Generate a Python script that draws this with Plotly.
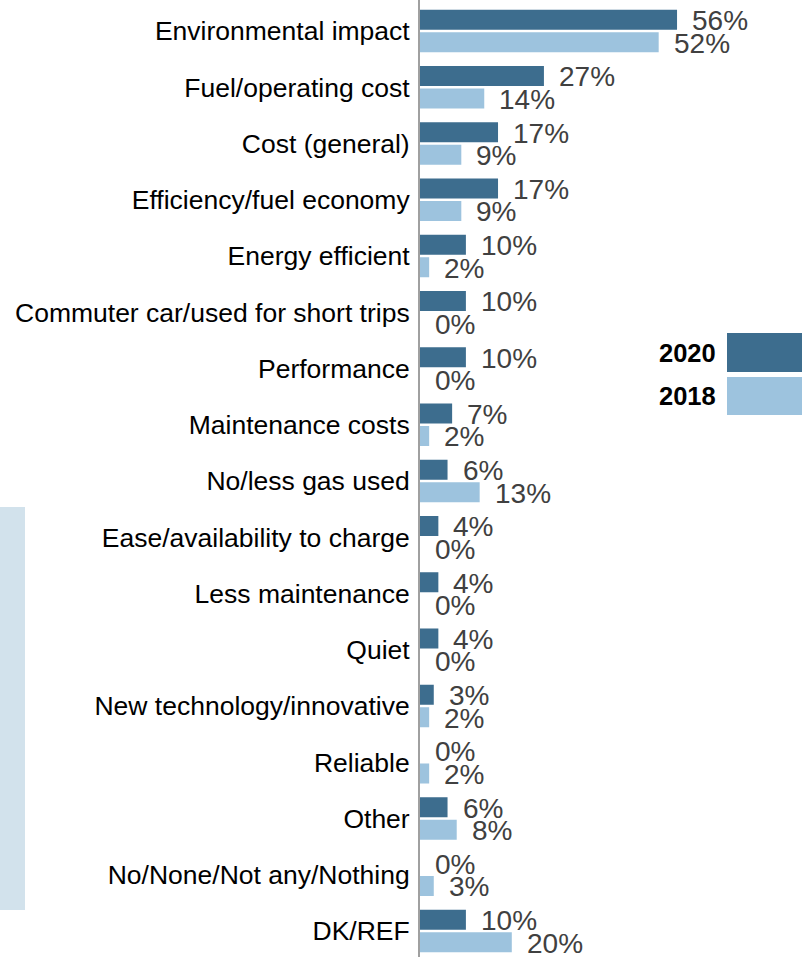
import plotly.graph_objects as go

# Reasons given for preferring an electric vehicle, share of respondents
categories = [
    "Environmental impact",
    "Fuel/operating cost",
    "Cost (general)",
    "Efficiency/fuel economy",
    "Energy efficient",
    "Commuter car/used for short trips",
    "Performance",
    "Maintenance costs",
    "No/less gas used",
    "Ease/availability to charge",
    "Less maintenance",
    "Quiet",
    "New technology/innovative",
    "Reliable",
    "Other",
    "No/None/Not any/Nothing",
    "DK/REF",
]
values_2020 = [56, 27, 17, 17, 10, 10, 10, 7, 6, 4, 4, 4, 3, 0, 6, 0, 10]
values_2018 = [52, 14, 9, 9, 2, 0, 0, 2, 13, 0, 0, 0, 2, 2, 8, 3, 20]
series_names = ["2020", "2018"]

COLOR_2020 = "#3d6d8e"
COLOR_2018 = "#9dc3de"
FONT = "Liberation Sans, Arial, sans-serif"

W, H = 802, 957
ML, MR, MT, MB = 420, 0, 0, 0
plot_w = W - ML - MR
plot_h = H - MT - MB

# category band of 56.25 px, first band centred 31 px below the top
band_px = 56.25
y_top = -0.5 - (31 - band_px / 2) / band_px
y_bottom = y_top + plot_h / band_px


def px_x(px):
    return (px - ML) / plot_w


def px_y(py):
    return (H - MB - py) / plot_h


fig = go.Figure()
for name, vals, col in [(series_names[0], values_2020, COLOR_2020),
                        (series_names[1], values_2018, COLOR_2018)]:
    fig.add_trace(go.Bar(
        name=name, y=categories, x=vals, orientation="h",
        marker=dict(color=col, line=dict(width=0)),
        showlegend=False, hoverinfo="skip",
    ))

# value labels to the right of each bar
annotations = []
for vals, dy in [(values_2020, 10.5), (values_2018, -12)]:
    for cat, v in zip(categories, vals):
        annotations.append(dict(
            x=v, y=cat, xref="x", yref="y", text=f"{v}%",
            showarrow=False, xanchor="left", yanchor="middle",
            xshift=13, yshift=dy,
            font=dict(family=FONT, size=28, color="#404040"),
        ))

# legend drawn as labelled colour blocks
for name, col, y0, y1 in [(series_names[0], COLOR_2020, 333, 372),
                          (series_names[1], COLOR_2018, 377, 415)]:
    fig.add_shape(type="rect", xref="paper", yref="paper",
                  x0=px_x(727), x1=px_x(802), y0=px_y(y1), y1=px_y(y0),
                  fillcolor=col, line=dict(width=0), layer="above")
    annotations.append(dict(
        x=px_x(718), y=px_y((y0 + y1) / 2), xref="paper", yref="paper",
        text=f"<b>{name}</b>", showarrow=False, xanchor="right",
        yanchor="middle", font=dict(family=FONT, size=25.5, color="#000000"),
    ))

# side panel at the left edge
fig.add_shape(type="rect", xref="paper", yref="paper",
              x0=px_x(0), x1=px_x(25), y0=px_y(910), y1=px_y(507),
              fillcolor="#d2e2ec", line=dict(width=0), layer="below")

fig.update_layout(
    width=W, height=H,
    margin=dict(l=ML, r=MR, t=MT, b=MB, pad=0),
    paper_bgcolor="white", plot_bgcolor="white",
    barmode="group", bargap=0.2, bargroupgap=0.11,
    annotations=annotations,
    font=dict(family=FONT),
    xaxis=dict(range=[0, plot_w / 4.59], visible=False, fixedrange=True),
    yaxis=dict(
        categoryorder="array", categoryarray=categories,
        range=[y_bottom, y_top],
        showline=True, linecolor="#a0a0a0", linewidth=2,
        showgrid=False, zeroline=False, ticks="",
        ticklabelstandoff=3,
        tickfont=dict(family=FONT, size=26.5, color="#000000"),
    ),
)

fig.write_html("out.html")
